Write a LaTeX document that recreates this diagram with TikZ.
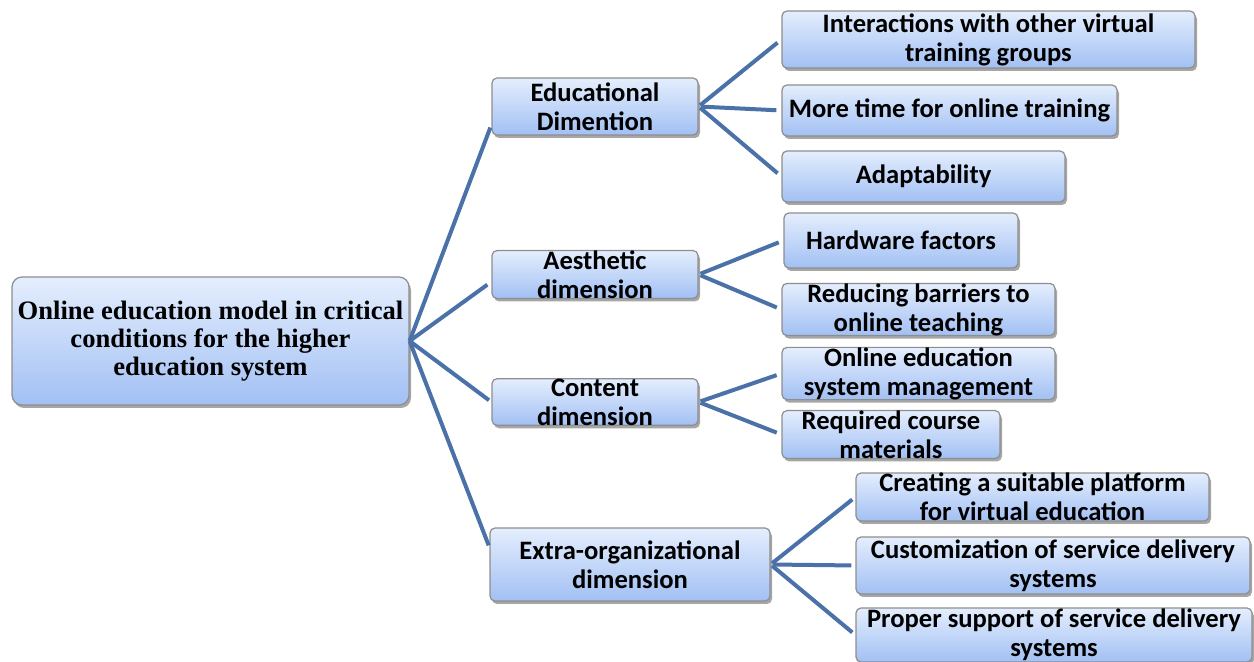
\documentclass[tikz,border=0pt]{standalone}
\usepackage{fontspec}
\setmainfont{Liberation Serif}
\newfontfamily\calibri{Carlito}
\usetikzlibrary{shadows}

\definecolor{boxtop}{HTML}{E4EEFD}
\definecolor{boxbot}{HTML}{A2C0F4}
\definecolor{boxline}{HTML}{8E8E8E}
\definecolor{linkblue}{HTML}{4A72A9}

\tikzset{
    box/.style={rectangle, rounded corners=2.5pt, draw=boxline, line width=0.6pt,
	top color=boxtop, bottom color=boxbot, inner sep=0pt, align=center,
	drop shadow={shadow xshift=1pt, shadow yshift=-1.5pt, opacity=0.35, fill=black}},
    mainbox/.style={box, rounded corners=5pt, font=\fontsize{13.3}{14}\selectfont\bfseries},
    dimbox/.style={box, font=\calibri\fontsize{13.3}{14.5}\selectfont\bfseries},
    itembox/.style={box, font=\calibri\fontsize{13.3}{14.5}\selectfont\bfseries},
    link/.style={draw=linkblue, line width=2pt},
}

\begin{document}
\begin{tikzpicture}[x=0.5pt, y=-0.5pt]
    \useasboundingbox (0, 0) rectangle (1254, 662);
    % root
    \node[mainbox, minimum width=198.5pt, minimum height=64pt] (root) at (210.5, 341)
	{Online education model in critical\\conditions for the higher\\education system};
    % dimensions
    \node[dimbox, minimum width=103pt, minimum height=28.5pt] (edu) at (595, 106.5) {Educational\\Dimention};
    \node[dimbox, minimum width=103pt, minimum height=19.5pt] (aes) at (595, 274.5) {Aesthetic\\dimension};
    \node[dimbox, minimum width=103pt, minimum height=22pt] (con) at (595, 402) {Content\\dimension};
    \node[dimbox, minimum width=140pt, minimum height=36.5pt] (ext) at (630, 564.5) {Extra-organizational\\dimension};
    % items of the educational dimension
    \node[itembox, minimum width=206.5pt, minimum height=28.5pt] (inter) at (988.5, 39.5) {Interactions with other virtual\\training groups};
    \node[itembox, minimum width=167.5pt, minimum height=25.5pt] (time) at (949.5, 110.5) {More time for online training};
    \node[itembox, minimum width=141.5pt, minimum height=25.5pt] (adapt) at (923.5, 176.5) {Adaptability};
    % items of the aesthetic dimension
    \node[itembox, minimum width=117pt, minimum height=27.5pt] (hard) at (901, 240.5) {Hardware factors};
    \node[itembox, minimum width=136.5pt, minimum height=22.5pt] (barr) at (918.5, 309.5) {Reducing barriers to\\online teaching};
    % items of the content dimension
    \node[itembox, minimum width=136.5pt, minimum height=24.5pt] (manage) at (918.5, 373.5) {Online education\\system management};
    \node[itembox, minimum width=109pt, minimum height=23.5pt] (course) at (891, 434.5) {Required course\\materials};
    % items of the extra-organizational dimension
    \node[itembox, minimum width=176.5pt, minimum height=24pt] (plat) at (1032.5, 497) {Creating a suitable platform\\for virtual education};
    \node[itembox, minimum width=197pt, minimum height=28.5pt] (custom) at (1053, 565.5) {Customization of service delivery\\systems};
    \node[itembox, minimum width=198pt, minimum height=27pt] (support) at (1054, 635) {Proper support of service delivery\\systems};
    % connectors
    \draw[link, shorten >=1.5pt] (root.east) -- (edu.190);
    \draw[link, shorten >=2.5pt] (root.east) -- (aes.184);
    \draw[link, shorten >=1.5pt] (root.east) -- (con.west);
    \draw[link, shorten >=1pt] (root.east) -- (ext.173);
    \foreach \item in {inter, time, adapt}
	\draw[link, shorten <=1pt, shorten >=2.5pt] (edu.east) -- (\item.west);
    \foreach \item in {hard, barr}
	\draw[link, shorten <=1pt, shorten >=2.5pt] (aes.east) -- (\item.west);
    \foreach \item in {manage, course}
	\draw[link, shorten <=1pt, shorten >=2.5pt] (con.east) -- (\item.west);
    \foreach \item in {plat, custom, support}
	\draw[link, shorten <=1pt, shorten >=2pt] (ext.east) -- (\item.west);
\end{tikzpicture}
\end{document}
